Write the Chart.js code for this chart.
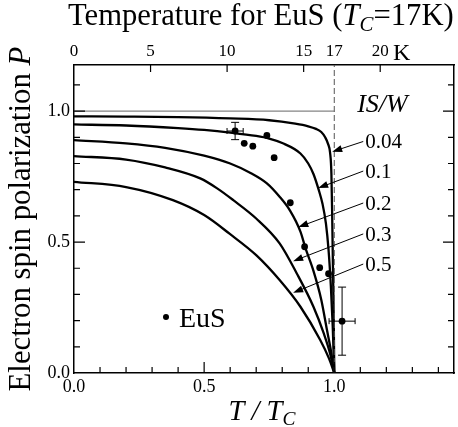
<!DOCTYPE html>
<html>
<head>
<meta charset="utf-8">
<script src="https://cdn.jsdelivr.net/npm/chart.js@4.4.1/dist/chart.umd.min.js"></script>
<style>
  html, body { margin: 0; padding: 0; background: #fff; }
  canvas { display: block; }
</style>
</head>
<body>
<canvas id="chart" width="458" height="427"></canvas>
<script>
// ---- data ----
const TC = 17; // K, EuS

// calculated curves P(T/Tc) for IS/W = 0.04, 0.1, 0.2, 0.3, 0.5
const t004 = [0, 0.2, 0.4, 0.6, 0.75, 0.85, 0.9, 0.93, 0.95, 0.965, 0.976, 0.984, 0.989, 0.992, 0.995, 0.998, 1.0];
const p004 = [0.98, 0.979, 0.977, 0.972, 0.965, 0.952, 0.942, 0.932, 0.92, 0.9, 0.875, 0.84, 0.76, 0.6, 0.4, 0.2, 0];

const t01 = [0, 0.2, 0.4, 0.5, 0.6, 0.7, 0.75, 0.8, 0.87, 0.9, 0.92, 0.94, 0.955, 0.968, 0.978, 0.987, 0.994, 1.0];
const p01 = [0.949, 0.945, 0.935, 0.928, 0.918, 0.905, 0.895, 0.878, 0.838, 0.80, 0.76, 0.70, 0.645, 0.57, 0.47, 0.33, 0.18, 0];

const t02 = [0, 0.2, 0.35, 0.5, 0.6, 0.68, 0.74, 0.79, 0.83, 0.87, 0.89, 0.92, 0.95, 0.972, 0.988, 1.0];
const p02 = [0.889, 0.877, 0.86, 0.83, 0.80, 0.763, 0.725, 0.673, 0.62, 0.54, 0.475, 0.39, 0.28, 0.164, 0.08, 0];

const t03 = [0, 0.2, 0.35, 0.485, 0.55, 0.612, 0.7, 0.79, 0.856, 0.92, 0.96, 0.985, 1.0];
const p03 = [0.828, 0.815, 0.785, 0.743, 0.705, 0.66, 0.59, 0.495, 0.38, 0.253, 0.15, 0.07, 0];

const t05 = [0, 0.2, 0.38, 0.5, 0.6, 0.7, 0.79, 0.87, 0.946, 0.98, 1.0];
const p05 = [0.73, 0.71, 0.66, 0.603, 0.53, 0.45, 0.355, 0.253, 0.126, 0.055, 0];

const curveNames = ['0.04', '0.1', '0.2', '0.3', '0.5'];

// EuS measurements
const dotT = [0.619, 0.654, 0.687, 0.741, 0.769, 0.831, 0.886, 0.944, 0.978, 1.03];
const dotP = [0.924, 0.877, 0.866, 0.907, 0.822, 0.650, 0.482, 0.402, 0.379, 0.198];
const dotErrT = [0.031, 0, 0, 0, 0, 0, 0, 0, 0, 0.05];
const dotErrP = [0.033, 0, 0, 0, 0, 0, 0, 0, 0, 0.13];

// axes
const xTicksMajor = [0, 0.5, 1.0];
const yTicksMajor = [0, 0.5, 1.0];
const kelvinTicks = [0, 5, 10, 15, 17, 20];

// ---- look ----
const SERIF = "'Liberation Serif', 'DejaVu Serif', serif";
const X_MAX = 1.46;
const Y_MAX = 1.176;

function pts(t, p) {
    return t.map((v, i) => ({ x: v, y: p[i] }));
}

const curves = [[t004, p004], [t01, p01], [t02, p02], [t03, p03], [t05, p05]];

// arrow labels, in data units of the bottom / left scales
const curveLabels = [
    { text: '0.04', x: 1.119, y: 0.884, tip: [0.992, 0.845] },
    { text: '0.1',  x: 1.119, y: 0.771, tip: [0.938, 0.706] },
    { text: '0.2',  x: 1.119, y: 0.649, tip: [0.862, 0.557] },
    { text: '0.3',  x: 1.119, y: 0.531, tip: [0.842, 0.427] },
    { text: '0.5',  x: 1.119, y: 0.416, tip: [0.842, 0.306] }
];

// draw text made of several font parts
function richWidth(ctx, parts, size) {
    let w = 0;
    parts.forEach(p => {
        ctx.font = (p.style || '') + ' ' + (size * (p.k || 1)) + 'px ' + SERIF;
        w += ctx.measureText(p.t).width;
    });
    return w;
}

function drawRich(ctx, parts, size, x, y) {
    let cx = x;
    parts.forEach(p => {
        ctx.font = (p.style || '') + ' ' + (size * (p.k || 1)) + 'px ' + SERIF;
        ctx.fillText(p.t, cx, y + (p.dy || 0) * size);
        cx += ctx.measureText(p.t).width;
    });
}

function fitSize(ctx, parts, target) {
    return 100 * target / richWidth(ctx, parts, 100);
}

// inward tick marks on all four sides
const inwardTicks = {
    id: 'inwardTicks',
    afterDatasetsDraw(chart) {
        const { ctx, chartArea: a, scales } = chart;
        ctx.save();
        ctx.strokeStyle = '#000';
        ctx.lineWidth = 1.2;
        ctx.beginPath();
        for (let i = 1; i <= 14; i++) {
            const px = scales.x.getPixelForValue(i / 10);
            const len = i % 5 === 0 ? 11 : 6;
            ctx.moveTo(px, a.bottom);
            ctx.lineTo(px, a.bottom - len);
        }
        for (let i = 1; i <= 11; i++) {
            const py = scales.y.getPixelForValue(i / 10);
            const len = i % 5 === 0 ? 11 : 6;
            ctx.moveTo(a.left, py);
            ctx.lineTo(a.left + len, py);
            ctx.moveTo(a.right, py);
            ctx.lineTo(a.right - len, py);
        }
        kelvinTicks.forEach(k => {
            if (k === 0 || k === TC) return;
            const px = scales.xTop.getPixelForValue(k);
            ctx.moveTo(px, a.top);
            ctx.lineTo(px, a.top + 7);
        });
        ctx.stroke();
        ctx.restore();
    }
};

// error bars on the measured points
const errorBars = {
    id: 'errorBars',
    afterDatasetsDraw(chart) {
        const { ctx, scales: { x, y } } = chart;
        ctx.save();
        ctx.strokeStyle = '#000';
        ctx.lineWidth = 1;
        ctx.beginPath();
        dotT.forEach((t, i) => {
            const px = x.getPixelForValue(t);
            const py = y.getPixelForValue(dotP[i]);
            if (dotErrT[i] > 0) {
                const x0 = x.getPixelForValue(t - dotErrT[i]);
                const x1 = x.getPixelForValue(t + dotErrT[i]);
                ctx.moveTo(x0, py); ctx.lineTo(x1, py);
                ctx.moveTo(x0, py - 3); ctx.lineTo(x0, py + 3);
                ctx.moveTo(x1, py - 3); ctx.lineTo(x1, py + 3);
            }
            if (dotErrP[i] > 0) {
                const y0 = y.getPixelForValue(dotP[i] - dotErrP[i]);
                const y1 = y.getPixelForValue(dotP[i] + dotErrP[i]);
                ctx.moveTo(px, y0); ctx.lineTo(px, y1);
                ctx.moveTo(px - 4, y0); ctx.lineTo(px + 4, y0);
                ctx.moveTo(px - 4, y1); ctx.lineTo(px + 4, y1);
            }
        });
        ctx.stroke();
        ctx.restore();
    }
};

// arrows, curve labels, legend and the axis titles
const labels = {
    id: 'labels',
    afterDraw(chart) {
        const { ctx, chartArea: a, scales: { x, y } } = chart;
        ctx.save();
        ctx.fillStyle = '#000';
        ctx.strokeStyle = '#000';
        ctx.textBaseline = 'alphabetic';

        // IS/W
        ctx.font = 'italic 26px ' + SERIF;
        ctx.textAlign = 'center';
        ctx.fillText('IS/W', x.getPixelForValue(1.185), y.getPixelForValue(1.0) + 1);

        ctx.textAlign = 'left';
        curveLabels.forEach(l => {
            const lx = x.getPixelForValue(l.x);
            const ly = y.getPixelForValue(l.y);
            const tx = x.getPixelForValue(l.tip[0]);
            const ty = y.getPixelForValue(l.tip[1]);
            ctx.font = '21px ' + SERIF;
            ctx.fillText(l.text, lx, ly + 7);
            // line and arrow head
            const ang = Math.atan2(ty - ly, tx - (lx - 2));
            ctx.lineWidth = 1;
            ctx.beginPath();
            ctx.moveTo(lx - 2, ly);
            ctx.lineTo(tx - 8 * Math.cos(ang), ty - 8 * Math.sin(ang));
            ctx.stroke();
            ctx.beginPath();
            ctx.moveTo(tx, ty);
            ctx.lineTo(tx - 10 * Math.cos(ang) + 3.5 * Math.sin(ang), ty - 10 * Math.sin(ang) - 3.5 * Math.cos(ang));
            ctx.lineTo(tx - 10 * Math.cos(ang) - 3.5 * Math.sin(ang), ty - 10 * Math.sin(ang) + 3.5 * Math.cos(ang));
            ctx.closePath();
            ctx.fill();
        });

        // legend "• EuS"
        ctx.beginPath();
        ctx.arc(166, 317, 3, 0, Math.PI * 2);
        ctx.fill();
        ctx.font = '28px ' + SERIF;
        ctx.fillText('EuS', 179, 327);

        // top title
        const topParts = [
            { t: 'Temperature for EuS (' },
            { t: 'T', style: 'italic' },
            { t: 'C', style: 'italic', k: 0.68, dy: 0.18 },
            { t: '=17K)' }
        ];
        const ts = fitSize(ctx, topParts, 386);
        drawRich(ctx, topParts, ts, 68, 25);

        // "K" unit on the top axis
        ctx.font = '24px ' + SERIF;
        ctx.textAlign = 'left';
        ctx.fillText('K', 393, 60);

        // bottom title
        const xParts = [
            { t: 'T', style: 'italic' },
            { t: ' / ', style: 'italic' },
            { t: 'T', style: 'italic' },
            { t: 'C', style: 'italic', k: 0.68, dy: 0.18 }
        ];
        const xs = fitSize(ctx, xParts, 67);
        drawRich(ctx, xParts, xs, 262 - 67 / 2, 420);

        // left title, rotated
        const yParts = [
            { t: 'Electron spin polarization ' },
            { t: 'P', style: 'italic' }
        ];
        const ys = fitSize(ctx, yParts, 345);
        ctx.translate(30, 219);
        ctx.rotate(-Math.PI / 2);
        drawRich(ctx, yParts, ys, -172.5, 0);
        ctx.restore();
    }
};

const datasets = [
    {   // P = 1 reference
        data: [{ x: 0, y: 1 }, { x: 1, y: 1 }],
        borderColor: '#666', borderWidth: 1, pointRadius: 0
    },
    {   // T = Tc
        data: [{ x: 1, y: 0 }, { x: 1, y: Y_MAX }],
        borderColor: '#555', borderWidth: 1, borderDash: [6, 3], pointRadius: 0
    }
];
curves.forEach((c, i) => {
    datasets.push({
        label: 'IS/W = ' + curveNames[i],
        data: pts(c[0], c[1]),
        borderColor: '#000',
        borderWidth: 2.3,
        pointRadius: 0,
        cubicInterpolationMode: 'monotone'
    });
});
datasets.push({
    label: 'EuS',
    data: pts(dotT, dotP),
    showLine: false,
    pointRadius: 3.4,
    pointBackgroundColor: '#000',
    pointBorderColor: '#000',
    pointBorderWidth: 0
});

const tickFont = { family: SERIF, size: 18 };

new Chart(document.getElementById('chart'), {
    type: 'line',
    data: { datasets: datasets },
    options: {
        responsive: false,
        animation: false,
        devicePixelRatio: 1,
        layout: { padding: 0 },
        plugins: { legend: { display: false }, tooltip: { enabled: false } },
        scales: {
            x: {
                type: 'linear', position: 'bottom', min: 0, max: X_MAX,
                afterBuildTicks: s => { s.ticks = xTicksMajor.map(v => ({ value: v })); },
                afterFit: s => { s.height = 54; },
                ticks: { font: tickFont, color: '#000', padding: 3, maxRotation: 0, autoSkip: false,
                         callback: v => v.toFixed(1) },
                grid: { drawOnChartArea: false, drawTicks: false },
                border: { color: '#000', width: 1.5 }
            },
            xTop: {
                type: 'linear', position: 'top', min: 0, max: X_MAX * TC,
                afterBuildTicks: s => { s.ticks = kelvinTicks.map(v => ({ value: v })); },
                afterFit: s => { s.height = 65; },
                ticks: { font: { family: SERIF, size: 17 }, color: '#000', padding: 3, maxRotation: 0, autoSkip: false,
                         callback: v => String(v) },
                grid: { drawOnChartArea: false, drawTicks: false },
                border: { color: '#000', width: 1.5 }
            },
            y: {
                type: 'linear', position: 'left', min: 0, max: Y_MAX,
                afterBuildTicks: s => { s.ticks = yTicksMajor.map(v => ({ value: v })); },
                afterFit: s => { s.width = 74; },
                ticks: { font: tickFont, color: '#000', padding: 4, autoSkip: false,
                         callback: v => v.toFixed(1) },
                grid: { drawOnChartArea: false, drawTicks: false },
                border: { color: '#000', width: 1.5 }
            },
            y2: {
                type: 'linear', position: 'right', min: 0, max: Y_MAX,
                afterFit: s => { s.width = 4; },
                ticks: { display: false },
                grid: { drawOnChartArea: false, drawTicks: false },
                border: { color: '#000', width: 1.5 }
            }
        }
    },
    plugins: [inwardTicks, errorBars, labels]
});
</script>
</body>
</html>
